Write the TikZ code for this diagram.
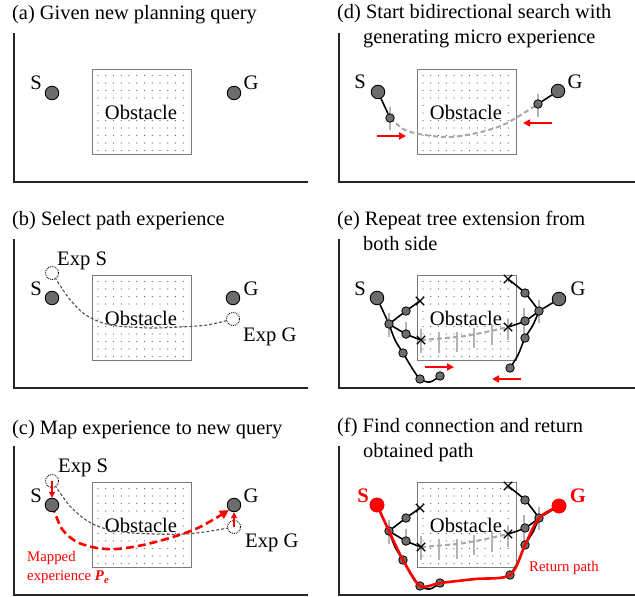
\documentclass[tikz,border=0pt]{standalone}
\usepackage{fontspec}
\setmainfont{Liberation Serif}
\usetikzlibrary{arrows.meta,shapes.misc}
\pgfdeclarelayer{back}
\pgfdeclarelayer{lines}
\pgfsetlayers{back,lines,main}
\definecolor{nodegray}{HTML}{6C6C6C}
\definecolor{obsgray}{HTML}{7A7A7A}
\definecolor{tickgray}{HTML}{B4B4B4}
\definecolor{dashgray}{HTML}{A8A8A8}
\definecolor{expgray}{HTML}{505050}
\definecolor{dotgray}{HTML}{606060}
\definecolor{pred}{HTML}{FF0000}
\tikzset{
  ttl/.style={anchor=base west, font=\fontsize{20.4}{24}\selectfont, inner sep=0},
  lbl/.style={font=\fontsize{20.6}{24}\selectfont, inner sep=0},
  rlbl/.style={font=\fontsize{14.8}{17}\selectfont, text=pred, inner sep=0, anchor=base west},
  bigdot/.style={circle, draw=black, line width=0.9pt, fill=nodegray, minimum size=13.5pt, inner sep=0},
  smalldot/.style={circle, draw=black, line width=0.8pt, fill=nodegray, minimum size=8.5pt, inner sep=0},
  expdot/.style={circle, draw=black, densely dotted, line width=0.9pt, fill=white, minimum size=13pt, inner sep=0},
  reddot/.style={circle, draw=pred, line width=0.6pt, fill=pred, minimum size=14pt, inner sep=0},
  xmark/.style={cross out, draw=black, line width=1.4pt, minimum size=7pt, inner sep=0},
  treeline/.style={line width=1.6pt, black},
  tickline/.style={line width=2pt, tickgray},
  graydash/.style={line width=2pt, dashgray, dash pattern=on 5pt off 3pt},
  expdash/.style={line width=1.1pt, expgray, dash pattern=on 3pt off 2pt},
  redarrow/.style={line width=2pt, pred, -{Triangle[length=7pt,width=7pt]}},
  smallred/.style={line width=1.3pt, pred, -{Triangle[length=6pt,width=6pt]}},
  reddash/.style={line width=2.6pt, pred, dash pattern=on 8pt off 4pt, -{Triangle[length=9pt,width=9pt]}},
  retpath/.style={line width=2.6pt, pred},
  frameline/.style={line width=1.3pt, black!85},
}
\newcommand{\panelframe}[1]{\draw[frameline] (14,33) -- (14,182) -- (#1,182);}
\newcommand{\obstacle}[1]{%
  \begin{pgfonlayer}{back}
  \node[draw=obsgray, fill=white, line width=1.4pt, minimum width=99pt, minimum height=85pt, inner sep=0, anchor=north west] (#1obs) at (92,69) {};
  \foreach \i in {0,...,11}{\foreach \j in {0,...,10}{\fill[dotgray] (98+7.75*\i,75.5+7.5*\j) circle (0.7pt);}}
  \node[lbl, fill=white, inner sep=0.3pt] (#1obt) at (141,112) {Obstacle};
  \end{pgfonlayer}}
\newcommand{\bitree}[2]{%
  \node[#2] (#1S) at (52,92) {};
  \node[smalldot] (#1n1) at (64,118) {};
  \node[smalldot] (#1n2) at (81,105) {};
  \node[xmark] (#1xu) at (95,95) {};
  \node[smalldot] (#1n3) at (81,128) {};
  \node[xmark] (#1xl) at (96,134) {};
  \node[smalldot] (#1n4) at (78,147) {};
  \node[smalldot] (#1n5) at (95,173) {};
  \node[smalldot] (#1n6) at (115,170) {};
  \node[#2] (#1G) at (234,93) {};
  \node[smalldot] (#1g1) at (214,105) {};
  \node[smalldot] (#1g2) at (200,87) {};
  \node[xmark] (#1xgu) at (183,73) {};
  \node[smalldot] (#1g3) at (200,115) {};
  \node[xmark] (#1xgl) at (183,121) {};
  \node[smalldot] (#1g4) at (200,132) {};
  \node[smalldot] (#1g5) at (185,162) {};
  \begin{pgfonlayer}{lines}
  \draw[tickline] (64,107) -- (64,131);
  \draw[tickline] (81,116) -- (81,133);
  \draw[tickline] (96,123) -- (96,147);
  \draw[tickline] (114,126) -- (114,147);
  \draw[tickline] (132,126) -- (132,146);
  \draw[tickline] (149,122) -- (149,142);
  \draw[tickline] (167,119) -- (167,139);
  \draw[tickline] (183,113) -- (183,134);
  \draw[tickline] (199,102) -- (199,129);
  \draw[tickline] (214,94) -- (214,117);
  \draw[graydash] plot[smooth] coordinates {(#1xl.center) (140,130) (#1xgl.center)};
  \draw[treeline] (#1S) -- (#1n1);
  \draw[treeline] plot[smooth] coordinates {(#1n1.center) (#1n2.center) (#1xu.center)};
  \draw[treeline] plot[smooth] coordinates {(#1n1.center) (#1n3.center) (#1xl.center)};
  \draw[treeline] plot[smooth] coordinates {(#1n1.center) (70,134) (#1n4.center) (87,162) (#1n5.center) (105,176) (#1n6.center)};
  \draw[treeline] (#1G) -- (#1g1);
  \draw[treeline] plot[smooth] coordinates {(#1g1.center) (#1g2.center) (#1xgu.center)};
  \draw[treeline] plot[smooth] coordinates {(#1g1.center) (#1g3.center) (#1xgl.center)};
  \draw[treeline] plot[smooth] coordinates {(#1g1.center) (208,119) (#1g4.center) (193,149) (#1g5.center)};
  \end{pgfonlayer}}
\begin{document}
\begin{tikzpicture}[x=1pt,y=-1pt]
\useasboundingbox (0,0) rectangle (635,597);
% (a)
\begin{scope}
\node[ttl] (ta) at (12,19.5) {(a) Given new planning query};
\panelframe{308}
\obstacle{a}
\node[bigdot] (aS) at (52,93) {};
\node[bigdot] (aG) at (234,93) {};
\node[lbl, anchor=base] (aSl) at (36,89) {S};
\node[lbl, anchor=base] (aGl) at (251,89) {G};
\end{scope}
% (b)
\begin{scope}[shift={(0,206)}]
\node[ttl] (tb) at (12,19) {(b) Select path experience};
\panelframe{308}
\obstacle{b}
\node[bigdot] (bS) at (52,92) {};
\node[bigdot] (bG) at (233,92) {};
\node[expdot] (bES) at (52,67) {};
\node[expdot] (bEG) at (233,113) {};
\node[lbl, anchor=base] (bSl) at (36,89) {S};
\node[lbl, anchor=base] (bGl) at (251,89) {G};
\node[lbl, anchor=base west] (bESl) at (57,59) {Exp S};
\node[lbl, anchor=base west] (bEGl) at (243,135.5) {Exp G};
\begin{pgfonlayer}{lines}
\draw[expdash] plot[smooth] coordinates {(bES.center) (68,91) (83,107) (100,116) (117,120) (150,122) (180,121) (207,119) (bEG.center)};
\end{pgfonlayer}
\end{scope}
% (c)
\begin{scope}[shift={(0,413)}]
\node[ttl] (tc) at (12,21) {(c) Map experience to new query};
\panelframe{308}
\obstacle{c}
\node[bigdot] (cS) at (52,92) {};
\node[bigdot] (cG) at (234,92) {};
\node[expdot] (cES) at (52,68) {};
\node[expdot] (cEG) at (234,114) {};
\node[lbl, anchor=base] (cSl) at (36,89) {S};
\node[lbl, anchor=base] (cGl) at (251,89) {G};
\node[lbl, anchor=base west] (cESl) at (58,59) {Exp S};
\node[lbl, anchor=base west] (cEGl) at (245,134) {Exp G};
\node[rlbl] (cm1) at (27,148.7) {Mapped};
\node[rlbl] (cm2) at (27,167) {experience \textbf{\textit{P}}\raisebox{-0.45ex}{\fontsize{10.5}{12}\selectfont\bfseries\itshape e}};
\begin{pgfonlayer}{lines}
\draw[expdash] plot[smooth] coordinates {(cES.center) (69,92) (86,107) (103,115) (133,120) (187,121) (cEG.center)};
\draw[reddash] plot[smooth] coordinates {(cS.center) (62,116) (77,129) (97,135) (117,136) (143,132) (173,124) (200,114) (cG.south west)};
\end{pgfonlayer}
\draw[smallred] (cES.center) -- (cS.north);
\draw[smallred] (cEG.center) -- (cG.south);
\end{scope}
% (d)
\begin{scope}[shift={(325,0)}]
\node[ttl] (td1) at (12,18) {(d) Start bidirectional search with};
\node[ttl] (td2) at (38,43) {generating micro experience};
\panelframe{310}
\obstacle{d}
\node[bigdot] (dS) at (53,92) {};
\node[smalldot] (dS1) at (65,118) {};
\node[bigdot] (dG) at (233,91) {};
\node[smalldot] (dG1) at (213,104) {};
\node[lbl, anchor=base] (dSl) at (35,88) {S};
\node[lbl, anchor=base] (dGl) at (250,88) {G};
\begin{pgfonlayer}{lines}
\draw[tickline] (65,107) -- (65,130);
\draw[tickline] (213,94) -- (213,117);
\draw[graydash] plot[smooth] coordinates {(dS1.center) (80,130) (100,135) (125,137) (152,133) (180,124) (dG1.center)};
\draw[treeline] (dS) -- (dS1);
\draw[treeline] (dG) -- (dG1);
\end{pgfonlayer}
\coordinate (da1) at (52,136); \coordinate (da2) at (81,136);
\coordinate (db1) at (227,123); \coordinate (db2) at (198,123);
\draw[redarrow] (da1) -- (da2);
\draw[redarrow] (db1) -- (db2);
\end{scope}
% (e)
\begin{scope}[shift={(325,206)}]
\node[ttl] (te1) at (12,19) {(e) Repeat tree extension from};
\node[ttl] (te2) at (38,44) {both side};
\panelframe{310}
\obstacle{e}
\bitree{e}{bigdot}
\node[lbl, anchor=base] (eSl) at (35,89) {S};
\node[lbl, anchor=base] (eGl) at (253,89) {G};
\coordinate (ea1) at (100,161); \coordinate (ea2) at (129,161);
\coordinate (eb1) at (196,173); \coordinate (eb2) at (167,173);
\draw[redarrow] (ea1) -- (ea2);
\draw[redarrow] (eb1) -- (eb2);
\end{scope}
% (f)
\begin{scope}[shift={(325,413)}]
\node[ttl] (tf1) at (12,19.5) {(f) Find connection and return};
\node[ttl] (tf2) at (38,44.5) {obtained path};
\panelframe{310}
\obstacle{f}
\bitree{f}{reddot}
\draw[retpath] plot[smooth] coordinates {(fS.center) (fn1.center) (fn4.center) (fn5.center) (fn6.center) (150,166) (fg5.center) (fg4.center) (fg1.center) (fG.center)};
\node[reddot] (fS2) at (fS) {};
\node[reddot] (fG2) at (fG) {};
\node[lbl, anchor=base, text=pred, font=\fontsize{20.6}{24}\selectfont\bfseries] (fSl) at (38,89) {S};
\node[lbl, anchor=base, text=pred, font=\fontsize{20.6}{24}\selectfont\bfseries] (fGl) at (253,89) {G};
\node[rlbl] (fret) at (204,158.5) {Return path};
\end{scope}
\end{tikzpicture}
\end{document}
